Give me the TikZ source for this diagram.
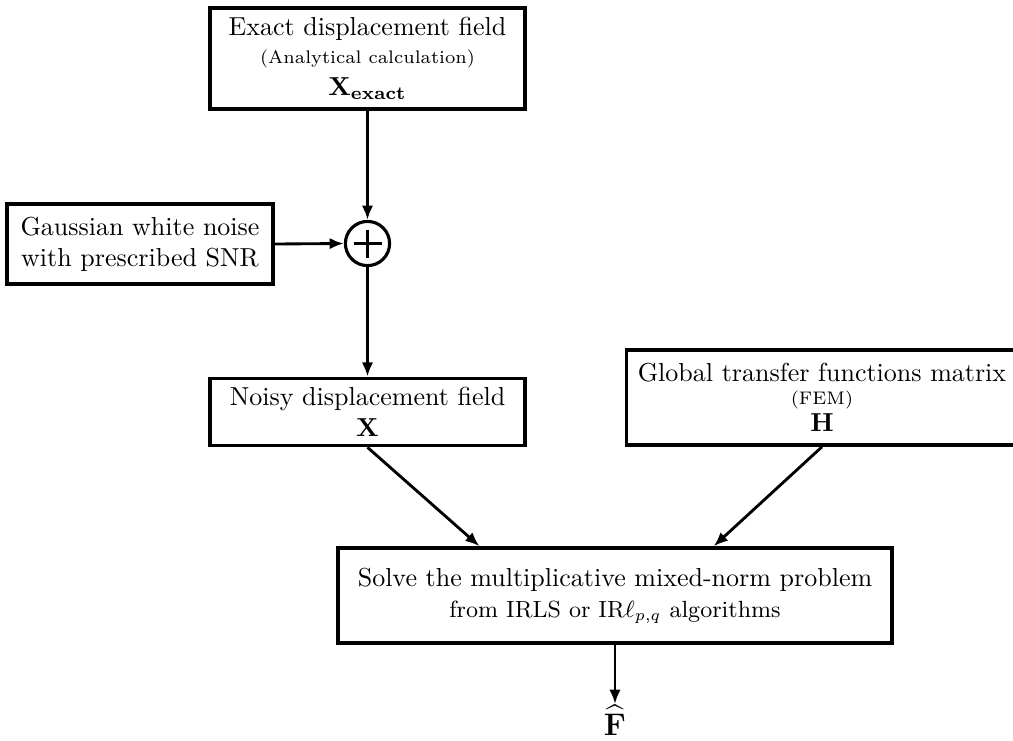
\documentclass[tikz,border=0pt]{standalone}
\usepackage{amsmath}
\usetikzlibrary{arrows.meta,calc}
\begin{document}
\begin{tikzpicture}[x=0.3846pt,y=-0.3846pt,
  box/.style={draw,line width=1.4pt,rectangle,align=center,inner sep=0pt},
  conn/.style={line width=1.1pt,-{Latex[length=5.5pt,width=4.4pt]}},
  sumnode/.style={circle,draw,line width=1.2pt,minimum size=17pt,inner sep=0pt}]
\useasboundingbox (0,0) rectangle (1013,740);

\node[box,minimum width=121.2pt,minimum height=38.8pt] (exact) at (367.5,58.5)
  {Exact displacement field\\[-1.5pt]{\scriptsize (Analytical calculation)}\\[0.5pt]$\mathbf{X}_{\mathbf{exact}}$};
\node[box,minimum width=102.3pt,minimum height=30.8pt] (gauss) at (140,244)
  {Gaussian white noise\\with prescribed SNR};
\node[sumnode] (sum) at (367.5,243.5) {};
\draw[line width=1.3pt] ($(sum.center)+(-14,0)$) -- ($(sum.center)+(14,0)$);
\draw[line width=1.3pt] ($(sum.center)+(0,-14)$) -- ($(sum.center)+(0,14)$);

\node[box,minimum width=121.2pt,minimum height=25.8pt] (noisy) at (367.5,412)
  {Noisy displacement field\\$\mathbf{X}$};
\node[box,minimum width=150.4pt,minimum height=36.5pt] (global) at (822,397.5)
  {Global transfer functions matrix\\[-3.5pt]{\scriptsize (FEM)}\\[-1.5pt]$\mathbf{H}$};
\node[box,minimum width=213.1pt,minimum height=36.5pt] (solve) at (615,595.5)
  {Solve the multiplicative mixed-norm problem\\{\small from IRLS or IR$\ell_{p,q}$ algorithms}};
\node[inner sep=0pt,anchor=north] (F) at (615,704) {\large$\widehat{\mathbf{F}}$};

\draw[conn] (exact.south) -- (sum.north);
\draw[conn] (gauss.east) -- (sum.west);
\draw[conn] (sum.south) -- (noisy.north);
\draw[conn] (noisy.south) -- ($(solve.north west)!0.257!(solve.north east)$);
\draw[conn] (global.south) -- ($(solve.north west)!0.677!(solve.north east)$);
\draw[conn] (solve.south) -- (F.north);
\end{tikzpicture}
\end{document}
